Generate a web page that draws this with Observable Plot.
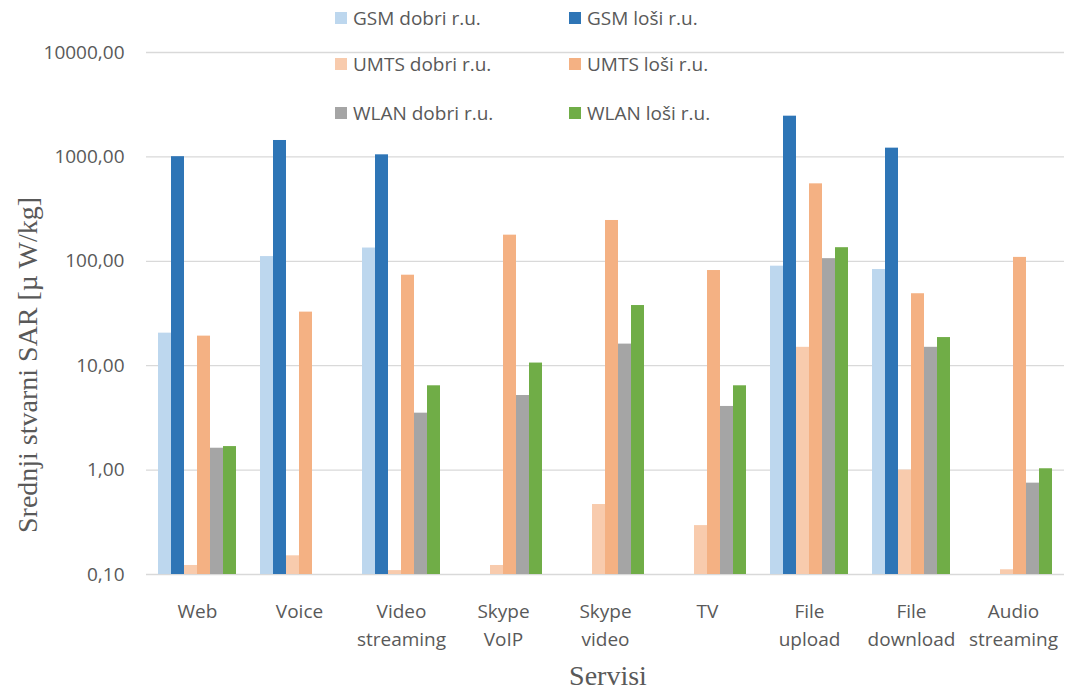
<!DOCTYPE html>
<html>
<head>
<meta charset="utf-8">
<script src="https://cdn.jsdelivr.net/npm/d3@7"></script>
<script src="https://cdn.jsdelivr.net/npm/@observablehq/plot@0.6"></script>
<style>
  html, body { margin: 0; padding: 0; background: #fff; }
  #wrap { position: relative; width: 1067px; height: 691px; overflow: hidden; }
  .leg { position: absolute; height: 20px; line-height: 20px; display: flex; align-items: center;
         font-family: 'Open Sans', sans-serif; font-size: 19px; color: #595959; white-space: nowrap; }
  .sw { width: 12px; height: 12px; margin-right: 6px; flex: none; }
</style>
</head>
<body>
<div id="wrap"></div>
<script>
// ---- data ----
const categories = ["Web", "Voice", "Video streaming", "Skype VoIP", "Skype video", "TV", "File upload", "File download", "Audio streaming"];
const categoryTickLabels = ["Web", "Voice", "Video\nstreaming", "Skype\nVoIP", "Skype\nvideo", "TV", "File\nupload", "File\ndownload", "Audio\nstreaming"];
const seriesNames = ["GSM dobri r.u.", "GSM loši r.u.", "UMTS dobri r.u.", "UMTS loši r.u.", "WLAN dobri r.u.", "WLAN loši r.u."];
const seriesColors = ["#BDD7EE", "#2E75B6", "#F8CBAD", "#F4B183", "#A5A5A5", "#70AD47"];

const gsmDobri  = [20.5, 111, 134, null, null, null, 89.8, 83.4, null];
const gsmLosi   = [1005, 1436, 1047, null, null, null, 2455, 1213, null];
const umtsDobri = [0.122, 0.151, 0.109, 0.122, 0.468, 0.294, 15.0, 1.0, 0.111];
const umtsLosi  = [19.2, 32.6, 73.6, 178, 246, 81.6, 552, 48.9, 109];
const wlanDobri = [1.62, null, 3.51, 5.18, 16.1, 4.07, 106, 15.0, 0.75];
const wlanLosi  = [1.68, null, 6.42, 10.6, 37.7, 6.42, 135, 18.6, 1.03];

const yTicks = [0.1, 1, 10, 100, 1000, 10000];
const yTitle = "Srednji stvarni SAR [µ W/kg]";
const xTitle = "Servisi";

// ---- build table ----
const seriesValues = [gsmDobri, gsmLosi, umtsDobri, umtsLosi, wlanDobri, wlanLosi];
const rows = categories.flatMap((c, i) =>
  seriesValues.map((vals, j) => ({cat: c, series: seriesNames[j], value: vals[i]}))
).filter(d => d.value != null);
const tickLabelOf = new Map(categories.map((c, i) => [c, categoryTickLabels[i]]));

const W = 1067, H = 691;
const chart = Plot.plot({
  width: W,
  height: H,
  marginTop: 52,
  marginBottom: 117,
  marginLeft: 144,
  marginRight: 2,
  style: {fontFamily: "'Open Sans', sans-serif", fontSize: "19px", color: "#595959", background: "#fff"},
  fx: {domain: categories, padding: 0},
  x: {domain: seriesNames, paddingInner: 0, paddingOuter: 0.8, axis: null},
  y: {type: "log", domain: [0.1, 10000]},
  color: {domain: seriesNames, range: seriesColors},
  marks: [
    Plot.ruleY(yTicks, {stroke: "#d9d9d9", strokeWidth: 1.3}),
    Plot.barY(rows, {fx: "cat", x: "series", y1: 0.1, y2: "value", fill: "series"}),
    Plot.axisY({ticks: yTicks, tickFormat: d => d.toFixed(2).replace(".", ","), tickSize: 0, tickPadding: 22, fontSize: 19, label: null}),
    Plot.axisFx({anchor: "bottom", tickFormat: d => tickLabelOf.get(d), tickSize: 0, tickPadding: 24, fontSize: 19, lineHeight: 1.45, label: null})
  ]
});

const wrap = document.getElementById("wrap");
wrap.appendChild(chart);

// axis titles
const svg = d3.select(chart);
svg.append("text")
  .attr("transform", "translate(27,365) rotate(-90)")
  .attr("text-anchor", "middle")
  .attr("dominant-baseline", "central")
  .attr("font-family", "'Liberation Serif', 'Times New Roman', serif")
  .attr("font-size", 28)
  .attr("fill", "#595959")
  .text(yTitle);
svg.append("text")
  .attr("x", 608)
  .attr("y", 685)
  .attr("text-anchor", "middle")
  .attr("font-family", "'Liberation Serif', 'Times New Roman', serif")
  .attr("font-size", 28)
  .attr("fill", "#595959")
  .text(xTitle);

// legend (2 columns x 3 rows)
const legLeft = [335, 569];
const legTop = [8, 54, 103];
seriesNames.forEach((name, i) => {
  const row = Math.floor(i / 2), col = i % 2;
  const item = document.createElement("div");
  item.className = "leg";
  item.style.left = legLeft[col] + "px";
  item.style.top = legTop[row] + "px";
  const sw = document.createElement("span");
  sw.className = "sw";
  sw.style.background = seriesColors[i];
  const tx = document.createElement("span");
  tx.textContent = name;
  item.appendChild(sw);
  item.appendChild(tx);
  wrap.appendChild(item);
});
</script>
</body>
</html>
